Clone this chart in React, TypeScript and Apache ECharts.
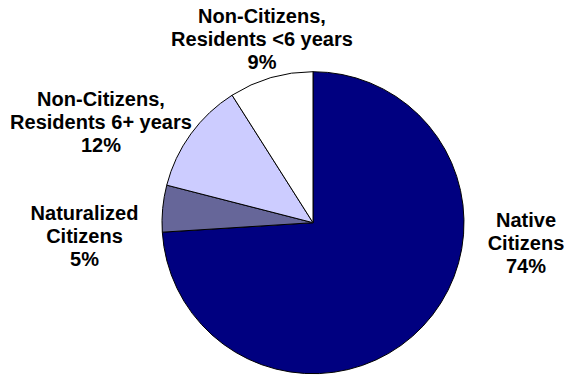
import React, { useEffect, useRef } from "react";
import * as echarts from "echarts";

const categories = [
  "Native\nCitizens",
  "Naturalized\nCitizens",
  "Non-Citizens,\nResidents 6+ years",
  "Non-Citizens,\nResidents <6 years",
];
const values = [74, 5, 12, 9];
const colors = ["#000080", "#666699", "#CCCCFF", "#FFFFFF"];
// label centres (layout only)
const labelCenters: [number, number][] = [
  [526, 243],
  [84.5, 236],
  [101, 122],
  [262, 39],
];

export default function App() {
  const ref = useRef<HTMLDivElement>(null);
  useEffect(() => {
    if (!ref.current) return;
    const chart = echarts.init(ref.current, undefined, { renderer: "svg" });
    chart.setOption({
      animation: false,
      backgroundColor: "#ffffff",
      series: [
        {
          type: "pie",
          center: [313, 222.7],
          radius: 151,
          startAngle: 90,
          clockwise: true,
          avoidLabelOverlap: false,
          data: categories.map((name, i) => ({
            name,
            value: values[i],
            itemStyle: { color: colors[i] },
          })),
          itemStyle: { borderColor: "#000000", borderWidth: 1 },
          label: {
            show: true,
            position: "outside",
            formatter: (p: any) => `${p.name}\n${p.value}%`,
            fontFamily: "Liberation Sans, Arial, sans-serif",
            fontWeight: "bold",
            fontSize: 20,
            lineHeight: 23,
            color: "#000000",
            align: "center",
          },
          labelLine: { show: false },
          labelLayout: (params: any) => {
            const c = labelCenters[params.dataIndex];
            return {
              x: c[0],
              y: c[1],
              align: "center",
              verticalAlign: "middle",
            };
          },
          emphasis: { disabled: true },
        },
      ],
    });
    return () => chart.dispose();
  }, []);
  return (
    <div
      ref={ref}
      style={{ position: "absolute", left: 0, top: 0, width: 567, height: 376 }}
    />
  );
}
